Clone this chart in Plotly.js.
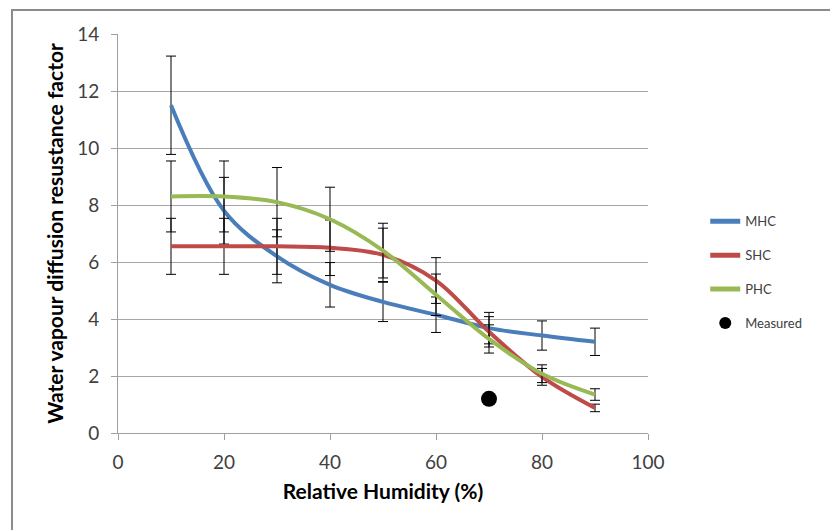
<!DOCTYPE html>
<html>
<head>
<meta charset="utf-8">
<script src="https://cdn.plot.ly/plotly-3.0.1.min.js"></script>
<style>
  html, body { margin: 0; padding: 0; background: #fff; }
  #wrap { position: relative; width: 830px; height: 530px; overflow: hidden; }
  #chart { width: 830px; height: 530px; }
  #frame { position: absolute; left: 11px; top: 9px; width: 840px; height: 540px;
           border: 2px solid #8c8c8c; pointer-events: none; }
</style>
</head>
<body>
<div id="wrap">
  <div id="chart"></div>
  <div id="frame"></div>
</div>
<script>
// Relative humidity (%)
const rh = [10, 20, 30, 40, 50, 60, 70, 80, 90];
// Water vapour diffusion resistance factor
const mhc = [11.5, 7.8, 6.2, 5.2, 4.6, 4.15, 3.68, 3.42, 3.2];
const shc = [6.55, 6.55, 6.55, 6.5, 6.25, 5.35, 3.55, 1.97, 0.88];
const phc = [8.3, 8.3, 8.1, 7.5, 6.4, 4.85, 3.3, 2.08, 1.35];
// Error bar size (% of value)
const errPct = 15;
// Measured value
const measuredX = [70];
const measuredY = [1.2];

const FONT = 'Lato, "Open Sans", sans-serif';

function lineTrace(name, y, color, grp) {
  return {
    x: rh, y: y, name: name, type: 'scatter', mode: 'lines',
    legendgroup: grp,
    line: { color: color, width: 4, shape: 'spline', smoothing: 1 },
    error_y: { type: 'percent', value: errPct, visible: true,
               color: '#000000', thickness: 1, width: 5 }
  };
}

const data = [
  lineTrace('MHC', mhc, '#4a7ebb', 'a'),
  lineTrace('SHC', shc, '#be4b48', 'b'),
  lineTrace('PHC', phc, '#98b954', 'c'),
  { x: measuredX, y: measuredY, name: 'Measured', type: 'scatter', mode: 'markers',
    legendgroup: 'd',
    marker: { color: '#000000', size: 16 } }
];

const layout = {
  width: 830, height: 530,
  margin: { l: 118, r: 182, t: 34, b: 97 },
  paper_bgcolor: '#ffffff', plot_bgcolor: '#ffffff',
  font: { family: FONT, color: '#404040', size: 19 },
  showlegend: true,
  legend: {
    x: 1.108, y: 0.568, xanchor: 'left', yanchor: 'top',
    font: { family: FONT, size: 13, color: '#404040' },
    tracegroupgap: 14, itemsizing: 'constant',
    bgcolor: 'rgba(0,0,0,0)'
  },
  xaxis: {
    range: [0, 100], tickvals: [0, 20, 40, 60, 80, 100],
    showgrid: false, zeroline: false,
    showline: true, linecolor: '#a0a0a0', linewidth: 1,
    ticks: 'outside', ticklen: 6, tickcolor: '#a0a0a0',
    ticklabelstandoff: 6,
    tickfont: { family: FONT, size: 19, color: '#404040' },
    title: { text: '<b>Relative Humidity (%)</b>', standoff: 12,
             font: { family: FONT, size: 21, color: '#000000' } }
  },
  yaxis: {
    range: [0, 14], tickvals: [0, 2, 4, 6, 8, 10, 12, 14],
    showgrid: true, gridcolor: '#a6a6a6', gridwidth: 1,
    zeroline: false,
    showline: true, linecolor: '#a0a0a0', linewidth: 1,
    ticks: 'outside', ticklen: 6, tickcolor: '#a0a0a0',
    ticklabelstandoff: 8,
    tickfont: { family: FONT, size: 19, color: '#404040' },
    title: { text: '<b>Water vapour diffusion resustance factor</b>', standoff: 7,
             font: { family: FONT, size: 21, color: '#000000' } }
  }
};

Plotly.newPlot('chart', data, layout, { staticPlot: true, displayModeBar: false });
</script>
</body>
</html>
